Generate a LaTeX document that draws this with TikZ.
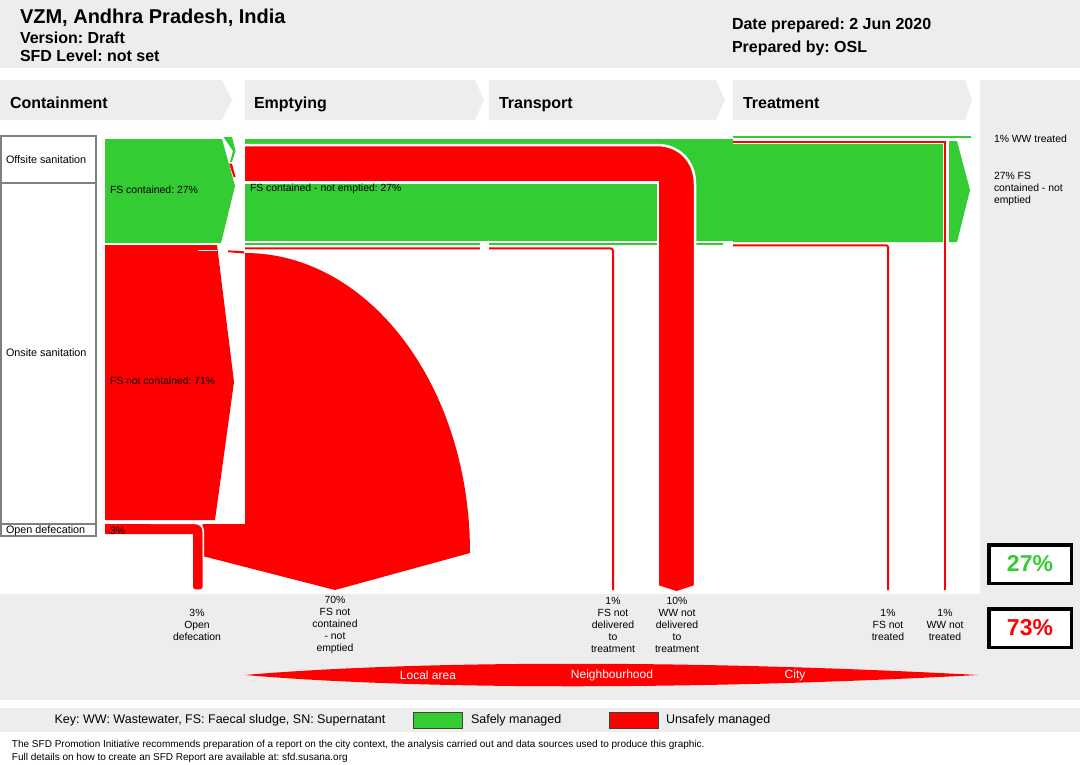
\documentclass[tikz,border=0pt]{standalone}
\usepackage{fontspec}
\setmainfont{Liberation Sans}
\frenchspacing
\definecolor{sgreen}{RGB}{51,204,51}
\definecolor{ured}{RGB}{255,0,0}
\definecolor{hgray}{RGB}{237,237,237}
\definecolor{bgray}{RGB}{127,127,127}
\begin{document}
\begin{tikzpicture}[x=1pt,y=-1pt,
  lbl/.style={inner sep=0pt, outer sep=0pt},
  htitle/.style={lbl, anchor=base west, font=\fontsize{20}{22}\selectfont\bfseries},
  hbold/.style={lbl, anchor=base west, font=\fontsize{16}{18}\selectfont\bfseries},
  flowtxt/.style={lbl, anchor=west, font=\fontsize{10.4}{12}\selectfont},
  sidetxt/.style={lbl, anchor=west, font=\fontsize{10.8}{12}\selectfont},
  outtxt/.style={lbl, align=center, font=\fontsize{10.4}{12}\selectfont},
  righttxt/.style={lbl, align=left, font=\fontsize{10.4}{12}\selectfont},
  scaletxt/.style={lbl, text=white, font=\fontsize{12}{14}\selectfont},
  pctbox/.style={draw=black, line width=3.5pt, fill=white, minimum width=82.5pt, minimum height=38.5pt, inner sep=0pt, font=\fontsize{23}{26}\selectfont\bfseries},
  swatch/.style={draw=black!75, line width=0.8pt, minimum width=49pt, minimum height=16pt, inner sep=0pt},
  keytxt/.style={lbl, font=\fontsize{12.5}{14}\selectfont},
  foottxt/.style={lbl, anchor=west, font=\fontsize{10}{11}\selectfont},
  thinG/.style={draw=sgreen, line width=2pt},
  thinR/.style={draw=ured, line width=2pt},
  pipeline/.style={draw=white, line width=2.5pt}
]
\useasboundingbox (0,0) rectangle (1080,764);
\fill[white] (0,0) rectangle (1080,764);
% ---------- backgrounds ----------
\fill[hgray] (0,0) rectangle (1080,68);
\fill[hgray] (0,80) -- (222,80) -- (232,100) -- (222,120) -- (0,120) -- cycle;
\fill[hgray] (245,80) -- (475,80) -- (484,100) -- (475,120) -- (245,120) -- cycle;
\fill[hgray] (489,80) -- (716,80) -- (725,100) -- (716,120) -- (489,120) -- cycle;
\fill[hgray] (733,80) -- (965,80) -- (972,100) -- (965,120) -- (733,120) -- cycle;
\fill[hgray] (980,80) rectangle (1080,594);
\fill[hgray] (0,594) rectangle (1080,700);
\fill[hgray] (0,708) rectangle (1080,732);

% ---------- header texts ----------
\node[htitle] (title) at (20,23) {VZM, Andhra Pradesh, India};
\node[hbold] (version) at (20,43.5) {Version: Draft};
\node[hbold] (level) at (20,61.5) {SFD Level: not set};
\node[hbold] (date) at (732,29.5) {Date prepared: 2 Jun 2020};
\node[hbold] (prep) at (732,52.5) {Prepared by: OSL};
\node[hbold] (scont) at (10,108) {Containment};
\node[hbold] (semp) at (254,108) {Emptying};
\node[hbold] (strans) at (499,108) {Transport};
\node[hbold] (streat) at (743,108) {Treatment};

% ---------- sanitation type column ----------
\draw[bgray, line width=1.5pt] (0.75,136) rectangle (96,536);
\draw[bgray, line width=1.5pt] (0,183) -- (96,183);
\draw[bgray, line width=1.5pt] (0,524) -- (96,524);
\node[sidetxt] (toff) at (6,160) {Offsite sanitation};
\node[sidetxt] (ton) at (6,353) {Onsite sanitation};
\node[sidetxt] (tod) at (6,530.5) {Open defecation};

% ---------- containment ----------
\fill[sgreen] (105,139) -- (222,139) -- (235,186) -- (221,243) -- (105,243) -- cycle;
\fill[sgreen] (223.5,137) -- (232,137) -- (235.5,151) -- (232,162) -- (230,162) -- (233,151) -- cycle;
\fill[ured] (229,163.5) -- (232,163.5) -- (235.5,177) -- (233.5,177) -- cycle;
\fill[ured] (105,245) -- (217,245) -- (234,382) -- (215,520) -- (105,520) -- cycle;
\draw[white, line width=1.5pt] (198,250.5) -- (217,250.5);
\fill[ured] (228,250.3) -- (244,251.3) -- (244,253.5) -- (228,252.2) -- cycle;

% ---------- big red (not contained - not emptied) ----------
\fill[ured] (245,253) .. controls (369,253) and (470,386) .. (470,553)
  -- (335,590) -- (202.5,556) -- (202.5,524) -- (245,524) -- cycle;

% ---------- open defecation pipe ----------
\fill[ured] (105,524) -- (195,524) .. controls (199.5,524) and (202.5,527) .. (202.5,531.5)
  -- (202.5,587) .. controls (202.5,589) and (201,589.5) .. (197.7,589.5)
  .. controls (194.5,589.5) and (193,589) .. (193,587) -- (193,534) -- (105,534) -- cycle;
\draw[white, line width=1.5pt] (150,523.3) -- (195,523.3) .. controls (200,523.3) and (203.3,527) .. (203.3,531.5) -- (203.3,556);

% ---------- emptying / transport / treatment green ----------
\fill[sgreen] (245,139) -- (733,139) -- (733,144) -- (943,144) -- (943,242) -- (245,242) -- cycle;
\fill[sgreen] (949,141) -- (957,141) -- (970,190) -- (957,242) -- (949,242) -- cycle;
\draw[white, line width=1.5pt] (245,242.2) -- (733,242.2);
\draw[thinG] (245,244.2) -- (723,244.2);
\draw[thinR, rounded corners=2.5pt] (245,248.4) -- (613,248.4) -- (613,590);
\fill[white] (480,241.5) rectangle (489,252);

% ---------- treatment lines ----------
\draw[thinG] (733,137) -- (971,137);
\draw[thinR] (733,142.2) -- (945,142.2) -- (945,590);
\draw[thinR, rounded corners=2pt] (733,245.3) -- (888,245.3) -- (888,590);

% ---------- WW not delivered pipe ----------
\fill[ured] (245,145) -- (657,145) .. controls (679,145) and (695,161) .. (695,184)
  -- (695,585) -- (676.5,591) -- (658,585) -- (658,182.5) -- (245,182.5) -- cycle;
\draw[pipeline] (245,145) -- (657,145) .. controls (679,145) and (695,161) .. (695,184) -- (695,590);
\draw[pipeline] (658,590) -- (658,182.5) -- (245,182.5);

% ---------- flow labels ----------
\node[flowtxt] (lfsc) at (110,189.5) {FS contained: 27\%};
\node[flowtxt] (lfsne) at (250,188.5) {FS contained - not emptied: 27\%};
\node[flowtxt] (lfsnc) at (110,381) {FS not contained: 71\%};
\node[flowtxt] (lod3) at (110,530.5) {3\%};

% ---------- right column ----------
\node[righttxt, anchor=west] (rww) at (994,139) {1\% WW treated};
\node[righttxt, anchor=north west] (rfs) at (994,172.5) {27\% FS\\contained - not\\emptied};
\node[pctbox, text=sgreen] (safe) at (1030,564) {27\%};
\node[pctbox, text=ured] (unsafe) at (1030,628) {73\%};

% ---------- outcome labels ----------
\node[outtxt] (ood) at (197,625) {3\%\\Open\\defecation};
\node[outtxt] (onc) at (335,624.5) {70\%\\FS not\\contained\\- not\\emptied};
\node[outtxt] (ofsnd) at (613,624.5) {1\%\\FS not\\delivered\\to\\treatment};
\node[outtxt] (owwnd) at (677,624.5) {10\%\\WW not\\delivered\\to\\treatment};
\node[outtxt] (ofsnt) at (888,625) {1\%\\FS not\\treated};
\node[outtxt] (owwnt) at (945,625) {1\%\\WW not\\treated};

% ---------- scale lens ----------
\fill[ured] (245,675) .. controls (420,660) and (700,660) .. (978,675)
  .. controls (700,690) and (420,690) .. (245,675) -- cycle;
\node[scaletxt] (slocal) at (428,675) {Local area};
\node[scaletxt] (sneigh) at (612,675) {Neighbourhood};
\node[scaletxt] (scity) at (795,675) {City};

% ---------- key ----------
\node[keytxt] (key) at (220,720) {Key: WW: Wastewater, FS: Faecal sludge, SN: Supernatant};
\node[swatch, fill=sgreen] (kgreen) at (437.5,720) {};
\node[keytxt, anchor=west] (ksafe) at (471,720) {Safely managed};
\node[swatch, fill=ured] (kred) at (633.5,720) {};
\node[keytxt, anchor=west] (kunsafe) at (666,720) {Unsafely managed};

% ---------- footer ----------
\node[foottxt] (f1) at (12,744.5) {The SFD Promotion Initiative recommends preparation of a report on the city context, the analysis carried out and data sources used to produce this graphic.};
\node[foottxt] (f2) at (12,757.5) {Full details on how to create an SFD Report are available at: sfd.susana.org};
\end{tikzpicture}
\end{document}
